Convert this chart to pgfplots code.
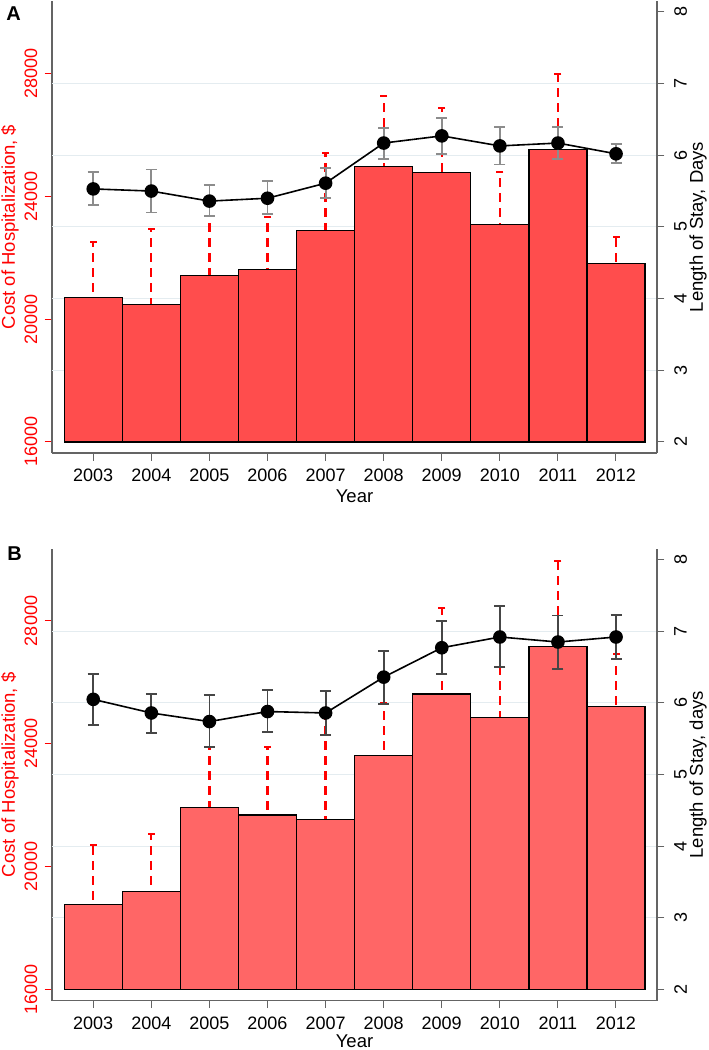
\documentclass[border=0pt]{standalone}
\usepackage{pgfplots}
\pgfplotsset{compat=1.18}
\usepackage{pgfplotstable}
\usepackage{fontspec}
\setmainfont{Liberation Sans}

\definecolor{barA}{RGB}{255,77,77}
\definecolor{barB}{RGB}{255,102,102}
\definecolor{axgray}{RGB}{100,100,100}
\definecolor{gridc}{RGB}{228,236,240}
\definecolor{ebA}{RGB}{140,140,140}
\definecolor{ebB}{RGB}{70,70,70}
\definecolor{tred}{RGB}{255,0,0}

% Panel A: cost of hospitalization (bar value, upper CI)
\pgfplotstableread{
year cost hi
2003 20706 22514
2004 20478 22917
2005 21421 23350
2006 21616 23307
2007 22884 25421
2008 24976 27262
2009 24770 26884
2010 23079 24780
2011 25528 27967
2012 21810 22677
}\costA
% Panel A: length of stay (mean, lower, upper)
\pgfplotstableread{
year los lo hi
2003 5.53 5.30 5.77
2004 5.50 5.20 5.80
2005 5.36 5.15 5.59
2006 5.40 5.18 5.64
2007 5.61 5.40 5.82
2008 6.17 5.95 6.38
2009 6.27 6.02 6.52
2010 6.13 5.87 6.39
2011 6.17 5.95 6.39
2012 6.02 5.89 6.16
}\losA
% Panel B
\pgfplotstableread{
year cost hi
2003 18777 20697
2004 19200 21055
2005 21934 23910
2006 21684 23887
2007 21544 24863
2008 23617 25330
2009 25622 28434
2010 24854 27314
2011 27175 29951
2012 25212 26937
}\costB
\pgfplotstableread{
year los lo hi
2003 6.05 5.69 6.40
2004 5.86 5.58 6.13
2005 5.74 5.39 6.11
2006 5.88 5.59 6.18
2007 5.86 5.55 6.17
2008 6.36 5.99 6.72
2009 6.77 6.40 7.14
2010 6.92 6.50 7.35
2011 6.85 6.47 7.22
2012 6.92 6.61 7.23
}\losB

\pgfplotsset{
  base/.style={
    scale only axis, width=605pt, height=452pt,
    xmin=2002.29, xmax=2012.705,
    xtick={2003,...,2012},
    tick align=outside,
    major tick length=7.5pt,
    tick label style={font=\fontsize{18}{20}\selectfont},
    label style={font=\fontsize{18.5}{21}\selectfont},
    /pgf/number format/assume math mode=true,
    /pgf/number format/1000 sep={},
    axis line style={axgray, line width=1.2pt},
    scaled y ticks=false, scaled x ticks=false,
  },
  leftax/.style={base,
    axis x line*=bottom, axis y line*=left,
    ymin=-362, ymax=14353,
    ytick={0,4000,8000,12000},
    yticklabels={16000,20000,24000,28000},
    yticklabel style={rotate=90, anchor=south, text=tred, inner sep=0pt},
    yticklabel shift=7pt,
    xticklabel style={inner sep=0pt},
    xticklabel shift=8.5pt,
    y tick style={tred, line width=1pt},
    x tick style={axgray, line width=1pt},
    extra y ticks={2333.33,4666.67,7000,9333.33,11666.67},
    extra y tick labels={},
    extra y tick style={grid=major, major tick length=0pt},
    major grid style={gridc, line width=1pt},
    ylabel={Cost of Hospitalization, \$},
    ylabel style={text=tred, at={(axis description cs:-0.0694,0.5)}, anchor=center},
    xlabel={Year},
    xlabel style={at={(axis description cs:0.5,-0.0951)}, anchor=center},
  },
  rightax/.style={base,
    hide x axis, axis y line*=right,
    ymin=1.845, ymax=8.152, ytick={2,...,8},
    yticklabel style={rotate=90, anchor=north, inner sep=0pt},
    yticklabel shift=9.5pt,
    y tick style={axgray, line width=1pt},
    ylabel style={at={(axis description cs:1.0678,0.5)}, anchor=center},
  },
  redci/.style={ycomb, tred, line width=2.3pt, dash pattern=on 9pt off 6pt,
    mark=-, mark size=3.5pt, mark options={solid, tred, line width=2pt}},
  bars/.style={ybar, bar width=1, bar shift=0pt, draw=black, line width=1.3pt},
  losline/.style={black, line width=1.6pt, mark=*, mark size=6pt, mark options={fill=black, solid},
    error bars/.cd, y dir=both, y explicit,
    error bar style={#1, line width=1.8pt},
    error mark options={rotate=90, #1, line width=1.8pt, mark size=5.5pt}},
}

\begin{document}
\begin{tikzpicture}
\useasboundingbox (0pt,0pt) rectangle (709pt,-1050pt);

% ---------------- Panel A ----------------
\begin{axis}[leftax, at={(52pt,-453pt)}, anchor=south west]
\addplot[redci] table[x=year, y expr=\thisrow{hi}-16000] {\costA};
\addplot[bars, fill=barA] table[x=year, y expr=\thisrow{cost}-16000] {\costA};
\end{axis}
\begin{axis}[rightax, at={(52pt,-453pt)}, anchor=south west, ylabel={Length of Stay, Days}]
\addplot[losline=ebA]
  table[x=year, y=los, y error plus expr=\thisrow{hi}-\thisrow{los}, y error minus expr=\thisrow{los}-\thisrow{lo}] {\losA};
\end{axis}
\node[font=\bfseries\fontsize{20}{22}\selectfont] at (13.5pt,-14pt) {A};

% ---------------- Panel B ----------------
\begin{axis}[leftax, at={(52pt,-1000.7pt)}, anchor=south west,
  xlabel style={at={(axis description cs:0.5,-0.0895)}}]
\addplot[redci] table[x=year, y expr=\thisrow{hi}-16000] {\costB};
\addplot[bars, fill=barB] table[x=year, y expr=\thisrow{cost}-16000] {\costB};
\end{axis}
\begin{axis}[rightax, at={(52pt,-1000.7pt)}, anchor=south west, ylabel={Length of Stay, days}]
\addplot[losline=ebB]
  table[x=year, y=los, y error plus expr=\thisrow{hi}-\thisrow{los}, y error minus expr=\thisrow{los}-\thisrow{lo}] {\losB};
\end{axis}
\node[font=\bfseries\fontsize{20}{22}\selectfont] at (14.5pt,-554pt) {B};
\end{tikzpicture}
\end{document}
